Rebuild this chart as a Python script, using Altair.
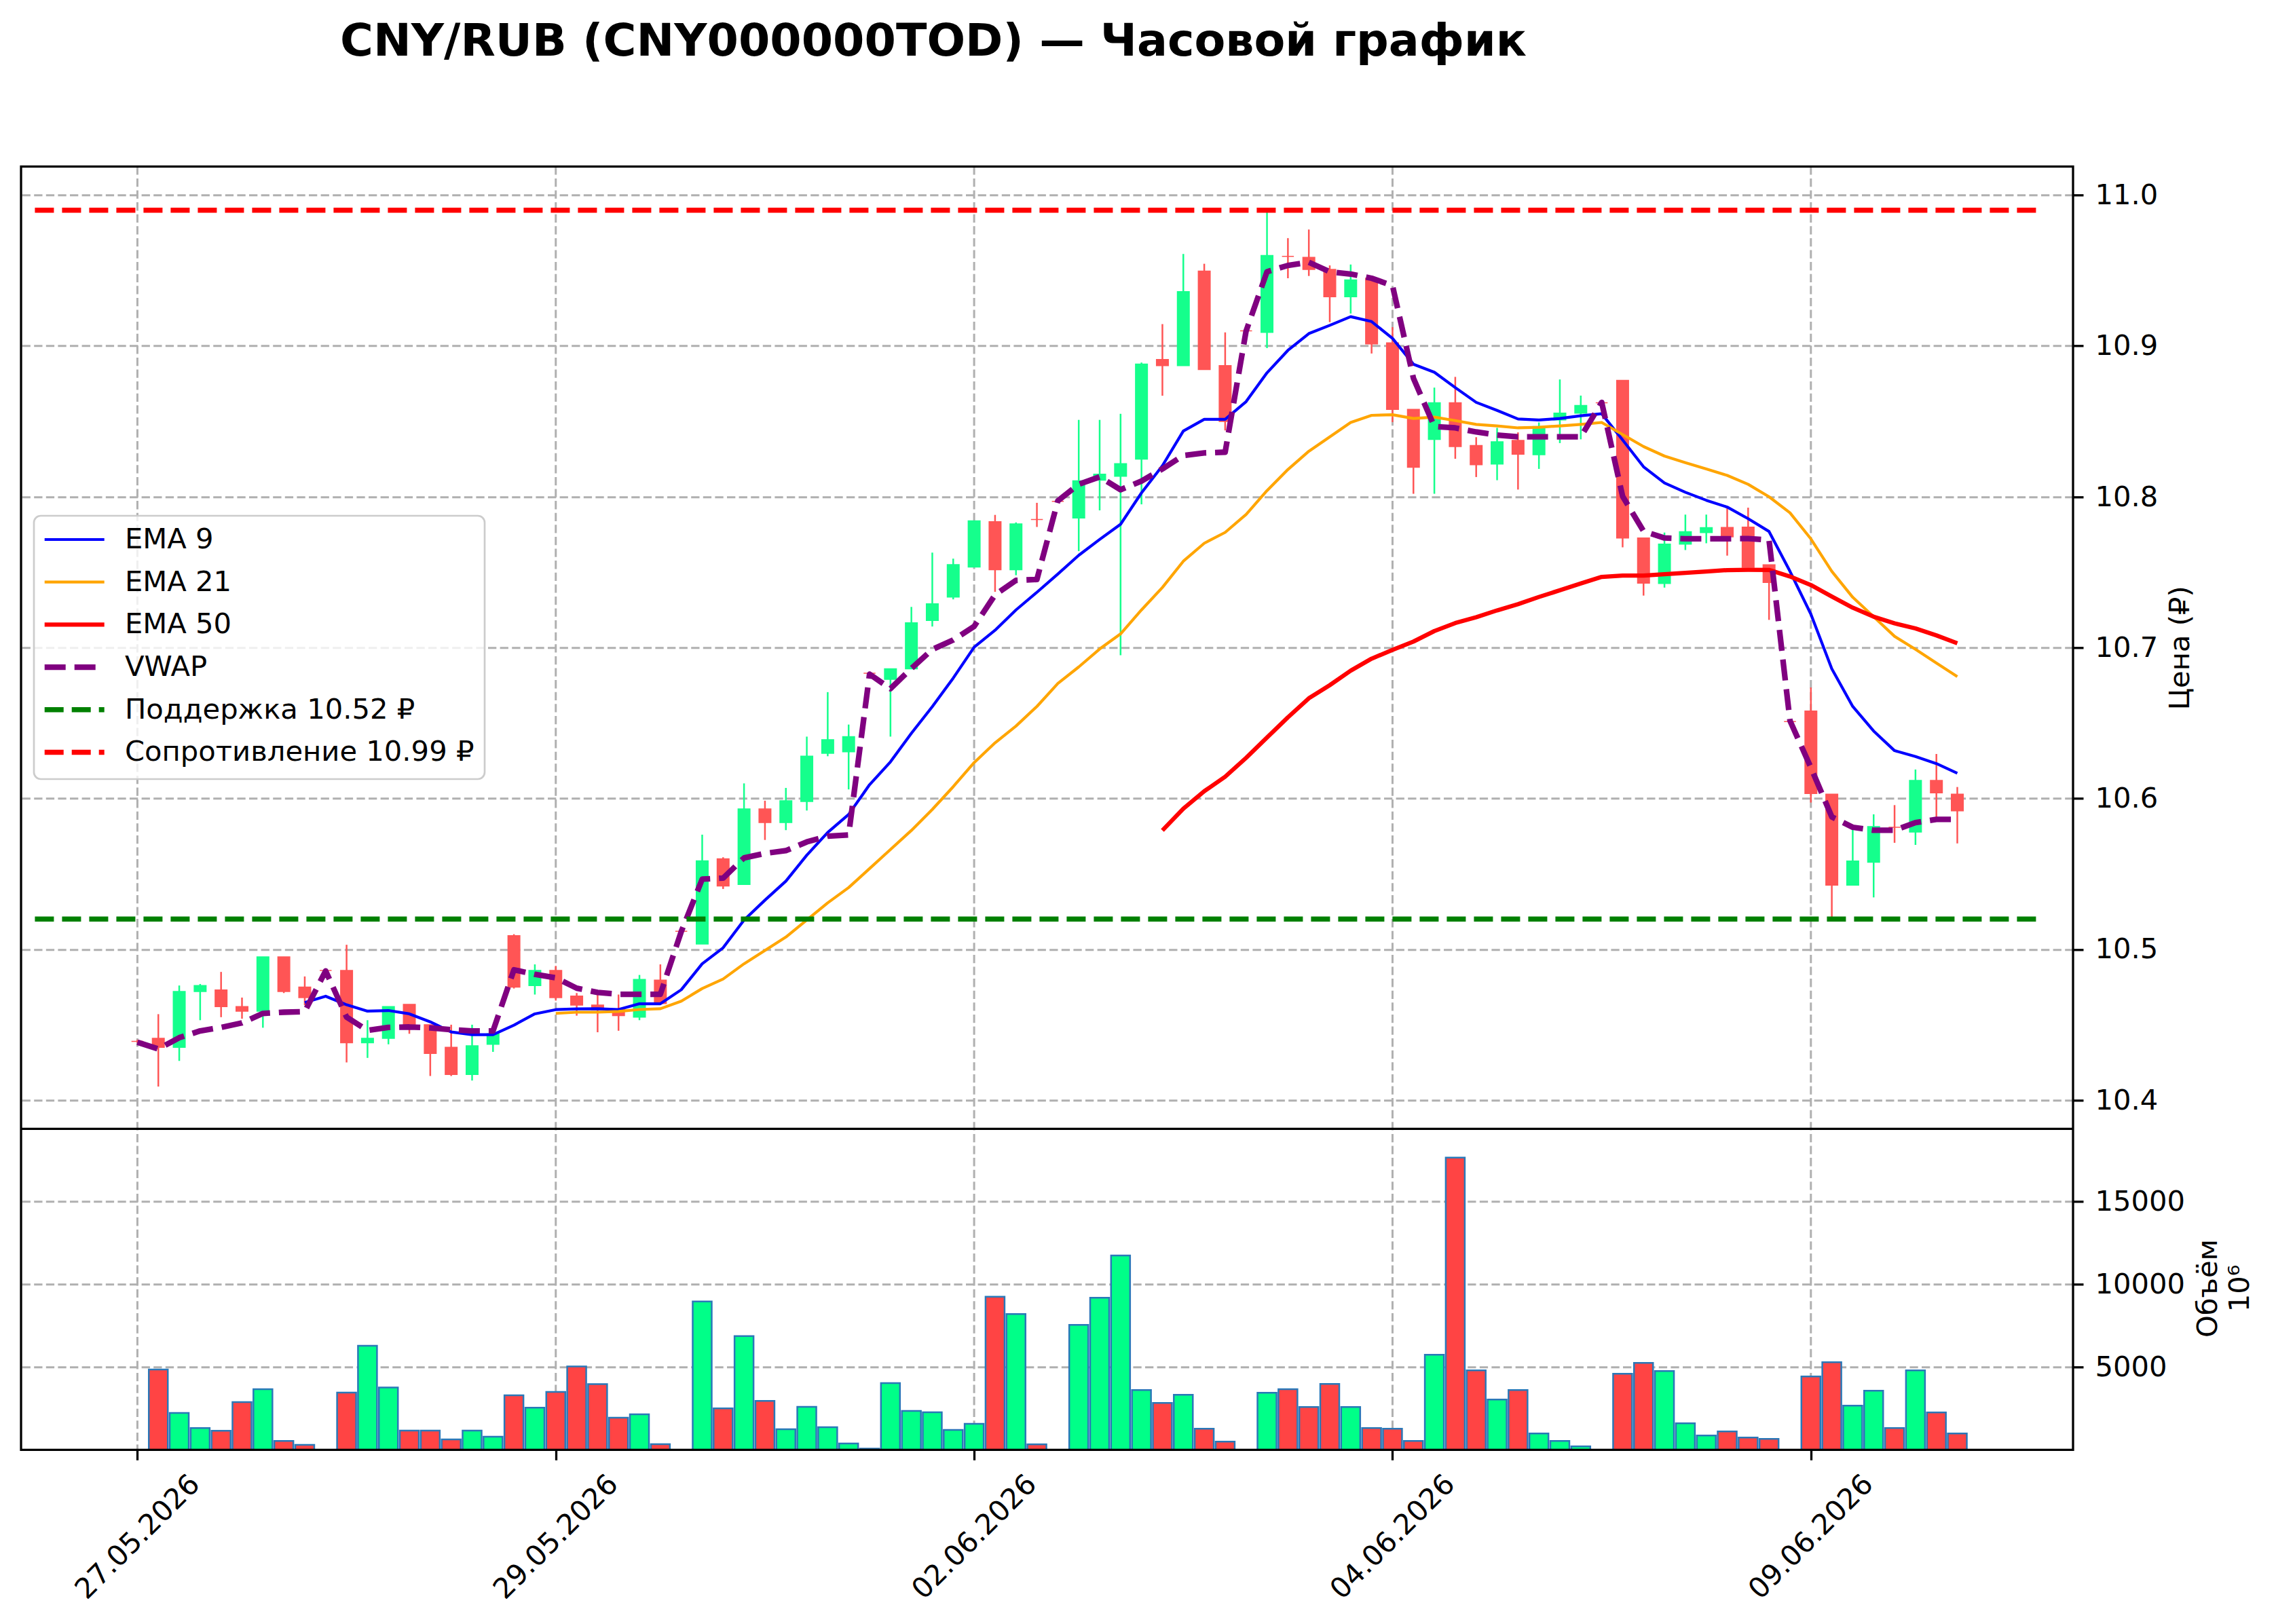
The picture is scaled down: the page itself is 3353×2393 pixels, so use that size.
import altair as alt
import pandas as pd
import numpy as np

# ---------------- data ----------------
idx = list(range(88))
opens = [10.439, 10.441, 10.435, 10.472, 10.473, 10.462, 10.459, 10.495, 10.475, 10.486,
         10.486, 10.438, 10.441, 10.4635, 10.450, 10.435, 10.417, 10.437, 10.509, 10.476,
         10.486, 10.469, 10.463, 10.460, 10.455, 10.4795, 10.512, 10.5035, 10.560, 10.543,
         10.593, 10.584, 10.598, 10.630, 10.631, 10.683, 10.679, 10.686, 10.718, 10.7335,
         10.7535, 10.7835, 10.7516, 10.785, 10.797, 10.786, 10.811, 10.8136, 10.825, 10.891,
         10.887, 10.9496, 10.887, 10.910, 10.909, 10.9594, 10.9587, 10.9507, 10.9326, 10.9449,
         10.902, 10.858, 10.838, 10.8623, 10.834, 10.8217, 10.8374, 10.8279, 10.851, 10.8555,
         10.8623, 10.8772, 10.7727, 10.7425, 10.7686, 10.7763, 10.7797, 10.7799, 10.7549, 10.651,
         10.6579, 10.6028, 10.5425, 10.5577, 10.5809, 10.5778, 10.6119, 10.6028]
highs = [10.440, 10.457, 10.476, 10.477, 10.485, 10.468, 10.495, 10.495, 10.482, 10.487,
         10.503, 10.453, 10.462, 10.4635, 10.450, 10.450, 10.450, 10.444, 10.510, 10.490,
         10.489, 10.471, 10.470, 10.470, 10.483, 10.490, 10.513, 10.576, 10.561, 10.610,
         10.5985, 10.607, 10.641, 10.6705, 10.649, 10.684, 10.686, 10.727, 10.763, 10.759,
         10.784, 10.788, 10.783, 10.796, 10.798, 10.851, 10.851, 10.855, 10.889, 10.9145,
         10.961, 10.9545, 10.909, 10.911, 10.9895, 10.9715, 10.9772, 10.9534, 10.954, 10.9449,
         10.9125, 10.858, 10.8724, 10.8795, 10.8395, 10.8457, 10.8427, 10.8493, 10.8778, 10.8671,
         10.8633, 10.8772, 10.7727, 10.7763, 10.7882, 10.7882, 10.7925, 10.7928, 10.7549, 10.652,
         10.6736, 10.6028, 10.5809, 10.5895, 10.5956, 10.6192, 10.6295, 10.6076]
lows = [10.438, 10.409, 10.426, 10.453, 10.455, 10.454, 10.448, 10.471, 10.463, 10.485,
        10.425, 10.428, 10.437, 10.444, 10.416, 10.416, 10.413, 10.432, 10.474, 10.470,
        10.466, 10.456, 10.445, 10.446, 10.453, 10.464, 10.511, 10.5035, 10.540, 10.543,
        10.5725, 10.579, 10.592, 10.628, 10.606, 10.682, 10.641, 10.686, 10.714, 10.732,
        10.7535, 10.737, 10.748, 10.780, 10.796, 10.764, 10.791, 10.695, 10.795, 10.867,
        10.887, 10.8844, 10.844, 10.909, 10.8986, 10.9449, 10.9464, 10.9158, 10.9215, 10.895,
        10.8495, 10.802, 10.802, 10.8252, 10.8131, 10.811, 10.8048, 10.8185, 10.8356, 10.8381,
        10.8613, 10.7665, 10.7345, 10.7398, 10.7647, 10.7692, 10.761, 10.7532, 10.7184, 10.650,
        10.5973, 10.521, 10.5425, 10.5344, 10.5706, 10.5692, 10.5847, 10.5702]
closes = [10.439, 10.435, 10.472, 10.476, 10.462, 10.459, 10.495, 10.472, 10.468, 10.486,
          10.438, 10.441, 10.462, 10.448, 10.431, 10.417, 10.436, 10.444, 10.475, 10.486,
          10.468, 10.463, 10.460, 10.456, 10.480, 10.464, 10.512, 10.5586, 10.542, 10.593,
          10.584, 10.5985, 10.628, 10.639, 10.641, 10.683, 10.686, 10.7165, 10.729, 10.755,
          10.784, 10.7516, 10.782, 10.785, 10.797, 10.8106, 10.815, 10.822, 10.888, 10.887,
          10.936, 10.8844, 10.850, 10.910, 10.960, 10.9594, 10.9507, 10.9326, 10.9438, 10.9014,
          10.858, 10.8196, 10.8623, 10.8333, 10.8213, 10.8365, 10.8283, 10.8466, 10.8555, 10.8605,
          10.8623, 10.7727, 10.7428, 10.7686, 10.7768, 10.7795, 10.7735, 10.7532, 10.7432, 10.651,
          10.6033, 10.5425, 10.5585, 10.5814, 10.5809, 10.6119, 10.6037, 10.5918]
volumes = [0, 4854, 2229, 1313, 1148, 2885, 3664, 533, 301, 0,
           3459, 6289, 3760, 1162, 1162, 629, 1162, 793, 3295, 2543,
           3500, 5031, 3965, 1941, 2147, 342, 0, 8955, 2502, 6863,
           2953, 1244, 2598, 1367, 383, 70, 4033, 2352, 2270, 1203,
           1572, 9242, 8203, 328, 0, 7547, 9188, 11731, 3609, 2830,
           3322, 1271, 492, 0, 3445, 3664, 2584, 3979, 2584, 1313,
           1271, 533, 5742, 17651, 4799, 3035, 3609, 984, 533, 205,
           0, 4594, 5250, 4758, 1600, 861, 1107, 738, 656, 0,
           4430, 5291, 2666, 3568, 1313, 4799, 2256, 984]
ema9 = [None] * 8 + [
    10.4647, 10.4689, 10.4632, 10.4590, 10.4594, 10.4572, 10.4519, 10.4452, 10.4434, 10.4434,
    10.4497, 10.4572, 10.4600, 10.4605, 10.4606, 10.4601, 10.4639, 10.4639, 10.4732, 10.4904,
    10.5010, 10.5194, 10.5326, 10.5452, 10.5624, 10.5775, 10.5894, 10.6091, 10.6243, 10.6432,
    10.6609, 10.6798, 10.7003, 10.7115, 10.7250, 10.7367, 10.7488, 10.7612, 10.7717, 10.7818,
    10.8026, 10.8206, 10.8436, 10.8514, 10.8514, 10.8631, 10.8822, 10.8971, 10.9082, 10.9137,
    10.9194, 10.9162, 10.9050, 10.8879, 10.8826, 10.8724, 10.8626, 10.8573, 10.8516, 10.8509,
    10.8519, 10.8537, 10.8551, 10.8377, 10.8199, 10.8092, 10.8030, 10.7977, 10.7932, 10.7855,
    10.7770, 10.7506, 10.7222, 10.6860, 10.6610, 10.6447, 10.6317, 10.6278, 10.6231, 10.6167]
ema21 = [None] * 20 + [
    10.4575, 10.4583, 10.4583, 10.4588, 10.4601, 10.4606, 10.4656, 10.4740, 10.4803, 10.4904,
    10.4992, 10.5081, 10.5194, 10.5308, 10.5409, 10.5535, 10.5662, 10.5788, 10.5927, 10.6078,
    10.6238, 10.6369, 10.6480, 10.6610, 10.6762, 10.6872, 10.6991, 10.7091, 10.7250, 10.7399,
    10.7573, 10.7692, 10.7764, 10.7883, 10.8041, 10.8181, 10.8302, 10.8397, 10.8493, 10.8540,
    10.8544, 10.8519, 10.8528, 10.8505, 10.8480, 10.8470, 10.8457, 10.8461, 10.8470, 10.8480,
    10.8493, 10.8413, 10.8333, 10.8270, 10.8226, 10.8185, 10.8142, 10.8083, 10.8000, 10.7894,
    10.7721, 10.7506, 10.7334, 10.7205, 10.7075, 10.6989, 10.6898, 10.6808]
ema50 = [None] * 49 + [
    10.5788, 10.5932, 10.6048, 10.6144, 10.6269, 10.6404, 10.6538, 10.6664, 10.6751, 10.6847,
    10.6927, 10.6985, 10.7040, 10.7110, 10.7163, 10.7202, 10.7247, 10.7288, 10.7336, 10.7380,
    10.7425, 10.7469, 10.7478, 10.7478, 10.7487, 10.7496, 10.7505, 10.7514, 10.7516, 10.7515,
    10.7472, 10.7415, 10.7339, 10.7265, 10.7205, 10.7161, 10.7127, 10.7081, 10.7029]
vwap = [10.4384, 10.4339, 10.4414, 10.4459, 10.4482, 10.4512, 10.4575, 10.4583, 10.4587, 10.4857,
        10.4550, 10.4462, 10.4482, 10.4485, 10.4479, 10.4467, 10.4459, 10.4459, 10.4864, 10.4834,
        10.4811, 10.4742, 10.4714, 10.4702, 10.4702, 10.4702, 10.5118, 10.5465, 10.5472, 10.5606,
        10.5636, 10.5654, 10.5712, 10.5750, 10.5758, 10.6824, 10.6728, 10.6862, 10.6988, 10.7051,
        10.7141, 10.7350, 10.7446, 10.7452, 10.7973, 10.8083, 10.8132, 10.8047, 10.8104, 10.8185,
        10.8274, 10.8291, 10.8296, 10.9099, 10.9492, 10.9534, 10.9555, 10.9492, 10.9477, 10.9449,
        10.9400, 10.8786, 10.8466, 10.8457, 10.8430, 10.8409, 10.8398, 10.8398, 10.8398, 10.8398,
        10.8626, 10.8003, 10.7772, 10.7727, 10.7722, 10.7722, 10.7722, 10.7723, 10.7713, 10.6516,
        10.6205, 10.5878, 10.5809, 10.5789, 10.5789, 10.5840, 10.5861, 10.5861]
support = 10.52
resistance = 10.99
level_span = [-4.9, 91.0]          # index range covered by the support/resistance lines
tick_idx = [0, 20, 40, 60, 80]
tick_labels = ["27.05.2026", "29.05.2026", "02.06.2026", "04.06.2026", "09.06.2026"]
price_ticks = [10.4, 10.5, 10.6, 10.7, 10.8, 10.9, 11.0]
vol_ticks = [5000, 10000, 15000]
title_text = "CNY/RUB (CNY000000TOD) — Часовой график"

# ---------------- layout ----------------
W = 3023
PRICE_H = 1418
H = 1891
FONT = "DejaVu Sans"
FS = 41.7
GRID = dict(color="#b0b0b0", strokeWidth=3, strokeDash=[12.3, 5.3])

df = pd.DataFrame({"idx": idx, "open": opens, "high": highs, "low": lows,
                   "close": closes, "volume": volumes,
                   "ema9": ema9, "ema21": ema21, "ema50": ema50, "vwap": vwap})

up = "datum.close > datum.open"

label_expr = " : ".join(f"datum.value == {v} ? '{l}'" for v, l in zip(tick_idx, tick_labels)) + " : ''"

xs = alt.Scale(domain=[-5.40, 92.37], nice=False, zero=False)
axis_common = dict(domain=False, tickSize=15, tickWidth=3.3, tickColor="black",
                   labelFontSize=FS, labelFont=FONT, labelColor="black")
ygrid = dict(grid=True, gridDash=[12.3, 5.3], gridColor="#b0b0b0", gridWidth=3)
xaxis = alt.Axis(values=tick_idx, labelExpr=label_expr, title=None, labelAngle=315,
                 labelAlign="center", labelBaseline="middle", labelPadding=113,
                 labelLimit=500, labelOverlap=False, labelFlush=False, grid=False,
                 **axis_common)

def X(field="idx:Q"):
    return alt.X(field, scale=xs, axis=xaxis)

ys_price = alt.Scale(domain=[10.381, 11.019], range=[PRICE_H, 0], nice=False, zero=False)
price_axis = alt.Axis(orient="right", values=price_ticks, format=".1f", title="Цена (₽)",
                      labelPadding=17, titleFont=FONT, titleFontSize=FS, titleFontWeight="normal",
                      titleColor="black", titleAngle=270, titleX=158, titleY=709,
                      titleAlign="center", titleBaseline="middle", **ygrid, **axis_common)

def YP(field):
    return alt.Y(field, scale=ys_price, axis=price_axis)

ys_vol = alt.Scale(domain=[0, 19389], range=[H, PRICE_H], nice=False, zero=False)
vol_axis = alt.Axis(orient="right", values=vol_ticks, format="d", title=["Объём", "10⁶"],
                    labelPadding=17, titleFont=FONT, titleFontSize=FS, titleFontWeight="normal",
                    titleColor="black", titleAngle=270, titleX=199, titleY=1652.7,
                    titleAlign="center", titleBaseline="middle", titleLineHeight=47,
                    **ygrid, **axis_common)

# vertical grid lines at the date ticks, through both panels
vgrid = alt.Chart(pd.DataFrame({"t": tick_idx})).mark_rule(**GRID).encode(
    x=X("t:Q"), y=alt.value(0), y2=alt.value(H))

base = alt.Chart(df)

wicks = base.mark_rule(strokeWidth=2.5).encode(
    x=X(), y=YP("low:Q"), y2="high:Q",
    color=alt.condition(up, alt.value("#15FF8C"), alt.value("#FF5555")))

bodies = base.mark_bar(size=17.5, strokeWidth=1.5).encode(
    x=X(), y=YP("open:Q"), y2="close:Q",
    color=alt.condition(up, alt.value("#15FF8C"), alt.value("#FF5555")),
    stroke=alt.condition(up, alt.value("#15FF8C"), alt.value("#FF5555")))

def line(field, color, width, dash=None):
    d = df[["idx", field]].dropna()
    kw = dict(color=color, strokeWidth=width, strokeJoin="round")
    if dash:
        kw["strokeDash"] = dash
    return alt.Chart(d).mark_line(**kw).encode(x=X(), y=YP(f"{field}:Q"))

l9 = line("ema9", "#0000FF", 4.2)
l21 = line("ema21", "#FFA500", 4.2)
l50 = line("ema50", "#FF0000", 6.25)
lv = line("vwap", "#800080", 8.3, [31, 13])

levels = pd.DataFrame({"v": [support], "x0": [level_span[0]], "x1": [level_span[1]]})
sup = alt.Chart(levels).mark_rule(
    color="#008000", strokeWidth=7.5, strokeDash=[28, 12]).encode(
    x=X("x0:Q"), x2="x1:Q", y=YP("v:Q"))
levels_r = pd.DataFrame({"v": [resistance], "x0": [level_span[0]], "x1": [level_span[1]]})
res = alt.Chart(levels_r).mark_rule(
    color="#FF0000", strokeWidth=7.5, strokeDash=[28, 12]).encode(
    x=X("x0:Q"), x2="x1:Q", y=YP("v:Q"))

price = alt.layer(wicks, bodies, l9, l21, l50, lv, sup, res)

vol_bars = alt.Chart(df[df.volume > 0]).mark_bar(size=28, stroke="#2a78b8", strokeWidth=2.5).encode(
    x=X(), y=alt.Y("volume:Q", scale=ys_vol, axis=vol_axis),
    color=alt.condition(up, alt.value("#00FF88"), alt.value("#FF4444")))
vol = alt.layer(vol_bars)

one = pd.DataFrame({"a": [0]})
sep = alt.Chart(one).mark_rule(color="black", strokeWidth=3.3).encode(
    x=alt.value(0), x2=alt.value(W), y=alt.value(PRICE_H))
frame = alt.Chart(one).mark_rect(fillOpacity=0, fill="white", stroke="black", strokeWidth=3.3).encode(
    x=alt.value(0), x2=alt.value(W), y=alt.value(0), y2=alt.value(H))

title = alt.Chart(one).mark_text(fontSize=66.7, fontWeight="bold", font=FONT, color="black",
                                 align="center", baseline="alphabetic").encode(
    x=alt.value(1344), y=alt.value(-163.6), text=alt.value(title_text))

# legend
leg_labels = ["EMA 9", "EMA 21", "EMA 50", "VWAP",
              f"Поддержка {support:.2f} ₽", f"Сопротивление {resistance:.2f} ₽"]
leg_colors = ["#0000FF", "#FFA500", "#FF0000", "#800080", "#008000", "#FF0000"]
leg_widths = [4.2, 4.2, 6.25, 8.3, 7.5, 7.5]
leg_dash = [None, None, None, [31, 13], [28, 12], [28, 12]]

legend_layers = [alt.Chart(one).mark_rect(fill="white", fillOpacity=0.8, stroke="#cccccc",
                                          strokeWidth=2.7, cornerRadius=10).encode(
    x=alt.value(19), x2=alt.value(683), y=alt.value(514.7), y2=alt.value(902.7))]
for k, (lab, col, wd, ds) in enumerate(zip(leg_labels, leg_colors, leg_widths, leg_dash)):
    yc = 549.7 + 62.7 * k
    kw = dict(color=col, strokeWidth=wd)
    if ds:
        kw["strokeDash"] = ds
    legend_layers.append(alt.Chart(one).mark_rule(**kw).encode(
        x=alt.value(34.7), x2=alt.value(122.7), y=alt.value(yc)))
    legend_layers.append(alt.Chart(one).mark_text(fontSize=FS, font=FONT, color="black",
                                                  align="left", baseline="middle").encode(
        x=alt.value(153), y=alt.value(yc), text=alt.value(lab)))

chart = alt.layer(vgrid, price, vol, sep, frame, title, *legend_layers).resolve_scale(
    y="independent").properties(
    width=W, height=H,
    autosize=alt.AutoSizeParams(type="none"),
    padding={"left": 23, "top": 237.3, "right": 285, "bottom": 240},
).configure_view(strokeWidth=0).configure(font=FONT, background="white")

chart.save("out.html", embed_options={"renderer": "svg", "actions": False})
